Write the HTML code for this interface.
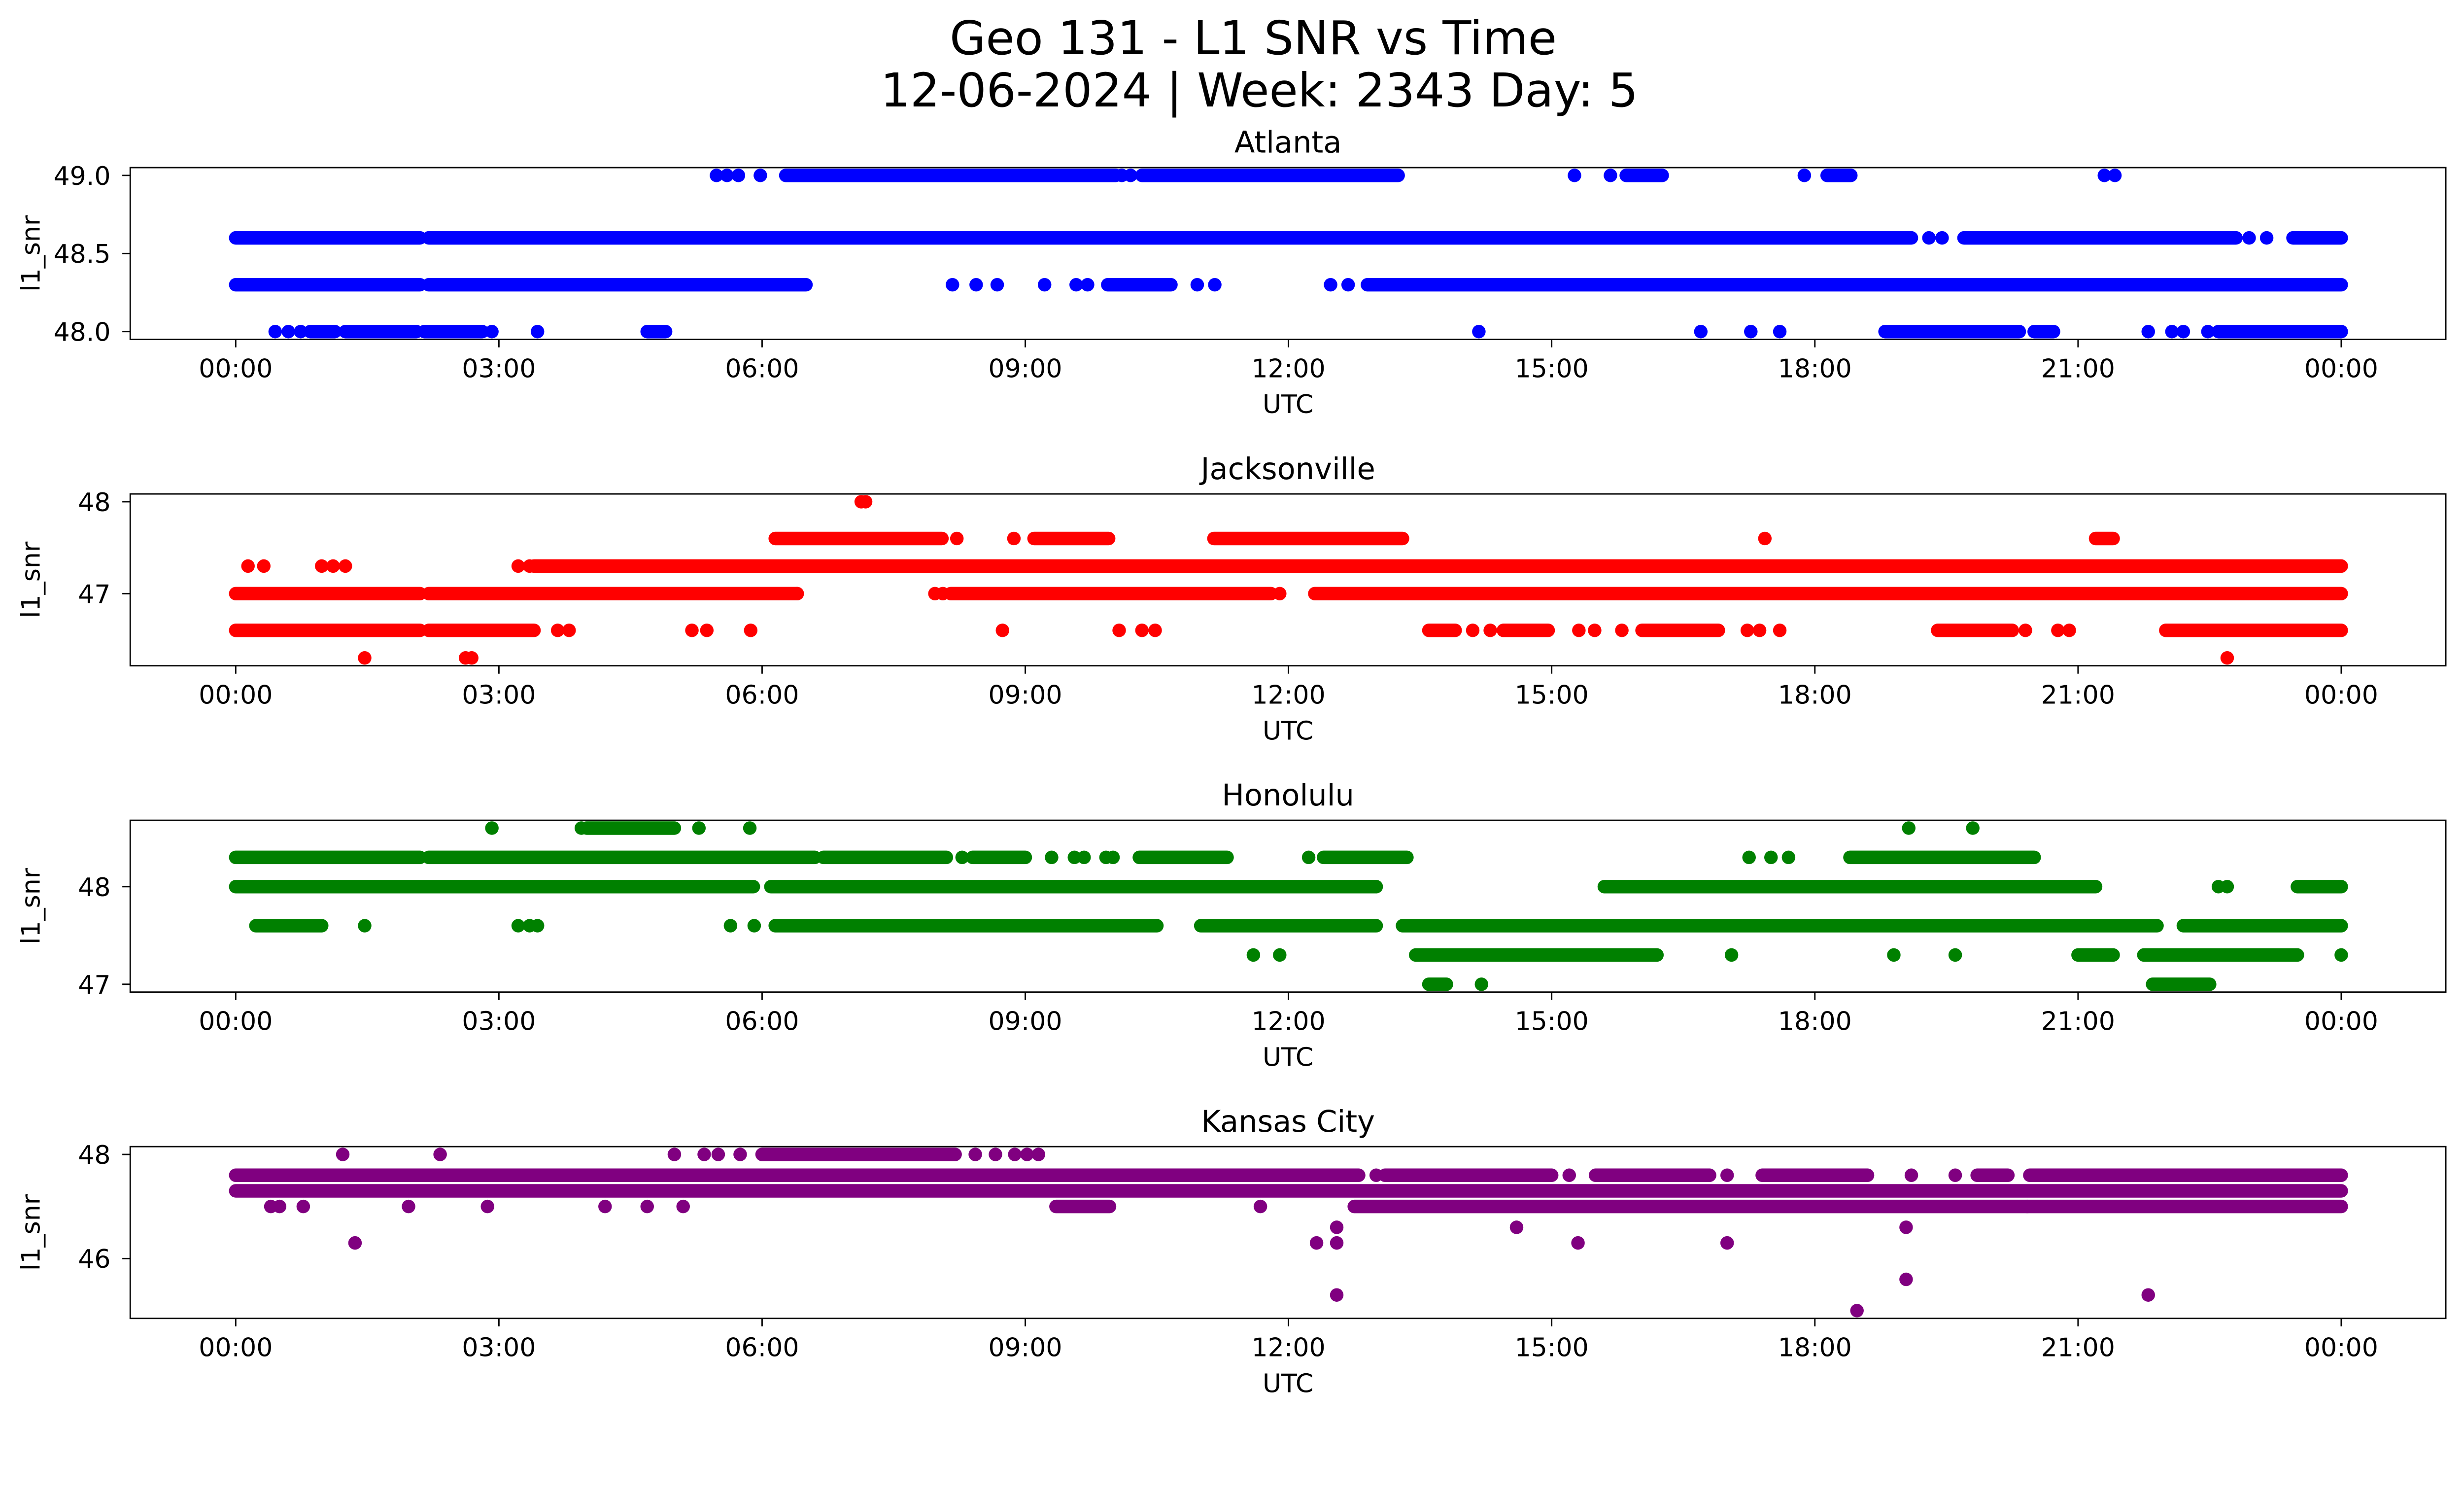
<!DOCTYPE html>
<html><head><meta charset="utf-8"><style>
html,body{margin:0;padding:0;background:#fff;overflow:hidden}
#fig{display:block;width:100vw;height:calc(100vw * 3033 / 5279)}
svg text{font-family:"DejaVu Sans","Liberation Sans",sans-serif;fill:#000}
</style></head><body>
<svg id="fig" viewBox="0 0 5279 3033" preserveAspectRatio="none" xmlns="http://www.w3.org/2000/svg">
<rect width="5279" height="3033" fill="#fff"/>
<text x="2685" y="116" font-size="100" text-anchor="middle">Geo 131 - L1 SNR vs Time</text>
<text x="2698" y="228" font-size="100" text-anchor="middle">12-06-2024 | Week: 2343 Day: 5</text>
</svg>
<script>
// ---- data ----
const panelNames = ["Atlanta","Jacksonville","Honolulu","Kansas City"];
const panelColors = ["#0000ff","#ff0000","#008000","#800080"];
const yLims = [[47.95,49.05],[46.215,48.085],[46.92,48.68],[44.85,48.15]];
const yTickVals = [[48.0,48.5,49.0],[47,48],[47,48],[46,48]];
const yTickLabels = [["48.0","48.5","49.0"],["47","48"],["47","48"],["46","48"]];
const xTickHours = [0,3,6,9,12,15,18,21,24];
const xTickLabels = ["00:00","03:00","06:00","09:00","12:00","15:00","18:00","21:00","00:00"];

// dense runs: [level, startHour, endHour]
const atlSegs = [[48.6,0,2.1],[48.6,2.2,19.1],[48.6,19.7,22.8],[48.6,23.45,24],
 [48.3,0,2.1],[48.3,2.2,6.5],[48.3,9.94,10.66],[48.3,12.9,24],
 [49.0,6.27,10.03],[49.0,10.33,13.25],[49.0,15.85,16.26],[49.0,18.14,18.41],
 [48.0,1.25,2.06],[48.0,2.15,2.81],[48.0,0.85,1.13],[48.0,18.8,20.33],[48.0,20.5,20.72],[48.0,22.6,24],[48.0,4.69,4.9]];
const atlPts = [[48.6,19.3],[48.6,19.45],[48.6,22.95],[48.6,23.15],
 [48.3,8.17],[48.3,8.44],[48.3,8.68],[48.3,9.22],[48.3,9.58],[48.3,9.71],[48.3,10.96],[48.3,11.16],[48.3,12.48],[48.3,12.68],
 [49.0,5.48],[49.0,5.6],[49.0,5.73],[49.0,5.98],[49.0,10.1],[49.0,10.2],[49.0,15.26],[49.0,15.67],[49.0,17.88],[49.0,21.3],[49.0,21.42],
 [48.0,0.45],[48.0,0.6],[48.0,0.74],[48.0,2.92],[48.0,3.44],[48.0,14.17],[48.0,16.7],[48.0,17.27],[48.0,17.6],[48.0,21.8],[48.0,22.07],[48.0,22.2],[48.0,22.48]];

const jaxSegs = [[47.0,0,2.1],[47.0,2.2,6.4],[47.0,8.15,11.8],[47.0,12.3,24],
 [46.6,0,2.1],[46.6,2.2,3.4],[46.6,13.6,13.9],[46.6,14.45,14.96],[46.6,16.03,16.9],[46.6,19.4,20.25],[46.6,22.0,24],
 [47.3,3.4,24],[47.6,6.15,8.05],[47.6,9.1,9.95],[47.6,11.15,13.3],[47.6,21.2,21.4]];
const jaxPts = [[47.0,6.4],[47.0,7.97],[47.0,8.06],[47.0,11.9],
 [46.6,3.67],[46.6,3.8],[46.6,5.2],[46.6,5.37],[46.6,5.87],[46.6,8.74],[46.6,10.07],[46.6,10.33],[46.6,10.48],[46.6,14.1],[46.6,14.3],[46.6,15.31],[46.6,15.49],[46.6,15.8],[46.6,17.23],[46.6,17.37],[46.6,17.6],[46.6,20.4],[46.6,20.77],[46.6,20.9],
 [47.3,0.14],[47.3,0.32],[47.3,0.98],[47.3,1.11],[47.3,1.25],[47.3,3.22],[47.3,3.35],
 [47.6,8.22],[47.6,8.87],[47.6,17.43],[48.0,7.13],[48.0,7.18],[46.3,1.47],[46.3,2.62],[46.3,2.69],[46.3,22.7]];

const honSegs = [[48.3,0,2.1],[48.3,2.2,6.6],[48.3,6.7,8.1],[48.3,8.4,9.0],[48.3,10.3,11.3],[48.3,12.4,13.35],[48.3,18.4,20.5],
 [48.6,4.0,5.0],[48.0,0,5.9],[48.0,6.1,13.0],[48.0,15.6,21.2],[48.0,23.5,24],
 [47.6,0.23,0.98],[47.6,6.15,10.5],[47.6,11.0,13.0],[47.6,13.3,21.9],[47.6,22.2,24],
 [47.3,13.45,16.2],[47.3,21.0,21.4],[47.3,21.75,23.5],[47.0,13.6,13.8],[47.0,21.85,22.5]];
const honPts = [[48.3,8.28],[48.3,9.3],[48.3,9.56],[48.3,9.67],[48.3,9.92],[48.3,10.0],[48.3,12.23],[48.3,17.25],[48.3,17.5],[48.3,17.7],
 [48.6,2.92],[48.6,3.94],[48.6,5.28],[48.6,5.86],[48.6,19.07],[48.6,19.8],[48.0,22.6],[48.0,22.7],
 [47.6,1.47],[47.6,3.22],[47.6,3.35],[47.6,3.44],[47.6,5.64],[47.6,5.91],
 [47.3,11.6],[47.3,11.9],[47.3,17.05],[47.3,18.9],[47.3,19.6],[47.3,24],[47.0,14.2]];

const kcSegs = [[47.6,0,12.8],[47.6,13.1,15.0],[47.6,15.5,16.8],[47.6,17.4,18.6],[47.6,19.85,20.2],[47.6,20.45,24],
 [47.3,0,24],[47.0,9.35,9.96],[47.0,12.75,24],[48.0,6.0,8.2]];
const kcPts = [[47.6,13.0],[47.6,15.2],[47.6,17.0],[47.6,19.1],[47.6,19.6],
 [47.0,0.4],[47.0,0.5],[47.0,0.77],[47.0,1.97],[47.0,2.87],[47.0,4.21],[47.0,4.69],[47.0,5.1],[47.0,11.68],[47.0,20.42],
 [48.0,1.22],[48.0,2.33],[48.0,5.0],[48.0,5.34],[48.0,5.5],[48.0,5.75],[48.0,8.43],[48.0,8.66],[48.0,8.88],[48.0,9.02],[48.0,9.15],
 [46.3,1.36],[46.3,12.32],[46.3,12.55],[46.3,15.3],[46.3,17.0],[46.6,12.55],[46.6,14.6],[46.6,19.04],
 [45.3,12.55],[45.3,21.8],[45.6,19.04],[45.0,18.48]];

const panelSegs = [atlSegs,jaxSegs,honSegs,kcSegs];
const panelPts = [atlPts,jaxPts,honPts,kcPts];

// ---- layout ----
const NS="http://www.w3.org/2000/svg";
const svg=document.getElementById('fig');
const L=279,R=5240,H=368,tops=[359,1058,1757,2456];
const X0=505,X24=5016;
function xs(h){return X0+(X24-X0)*h/24;}
function mk(tag,attrs,parent){const e=document.createElementNS(NS,tag);for(const k in attrs)e.setAttribute(k,attrs[k]);(parent||svg).appendChild(e);return e;}

panelNames.forEach((name,i)=>{
  const top=tops[i],bot=top+H,[y0,y1]=yLims[i];
  const ys=v=>bot-(v-y0)/(y1-y0)*H;
  const g=mk('g',{});
  
  
  const clip=mk('clipPath',{id:'c'+i},g);
  mk('rect',{x:L,y:top,width:R-L,height:H},clip);
  const marks=mk('g',{'clip-path':'url(#c'+i+')'},g);
  
  
  panelSegs[i].forEach(s=>{
    const l=mk('line',{x1:xs(s[1]),x2:xs(s[2]),y1:ys(s[0]),y2:ys(s[0]),stroke:panelColors[i],'stroke-width':29,'stroke-linecap':'round'},marks);
    
    
  });
  panelPts[i].forEach(p=>{
    const c=mk('circle',{cx:xs(p[1]),cy:ys(p[0]),r:14.5,fill:panelColors[i]},marks);
    
    
  });
  const fr=mk('rect',{x:L,y:top,width:R-L,height:H,fill:'none',stroke:'#000','stroke-width':3},g);
  
  
  xTickHours.forEach((h,k)=>{
    mk('line',{x1:xs(h),x2:xs(h),y1:bot,y2:bot+17,stroke:'#000','stroke-width':3},g);
    const t=mk('text',{x:xs(h),y:bot+81,'font-size':55,'text-anchor':'middle'},g);
    t.textContent=xTickLabels[k];
    
    
  });
  yTickVals[i].forEach((v,k)=>{
    mk('line',{x1:L-17,x2:L,y1:ys(v),y2:ys(v),stroke:'#000','stroke-width':3},g);
    const t=mk('text',{x:237,y:ys(v)+20,'font-size':55,'text-anchor':'end'},g);
    t.textContent=yTickLabels[i][k];
    
    
  });
  const tt=mk('text',{x:(L+R)/2,y:top-32,'font-size':64,'text-anchor':'middle'},g);
  tt.textContent=name;
  
  
  const xl=mk('text',{x:(L+R)/2,y:bot+158,'font-size':55,'text-anchor':'middle'},g);
  xl.textContent='UTC';
  
  
  const yl=mk('text',{x:0,y:0,'font-size':55,'text-anchor':'middle',transform:'translate(85,'+(top+H/2)+') rotate(-90)'},g);
  yl.textContent='l1_snr';
  
  
});
</script>
</body></html>
